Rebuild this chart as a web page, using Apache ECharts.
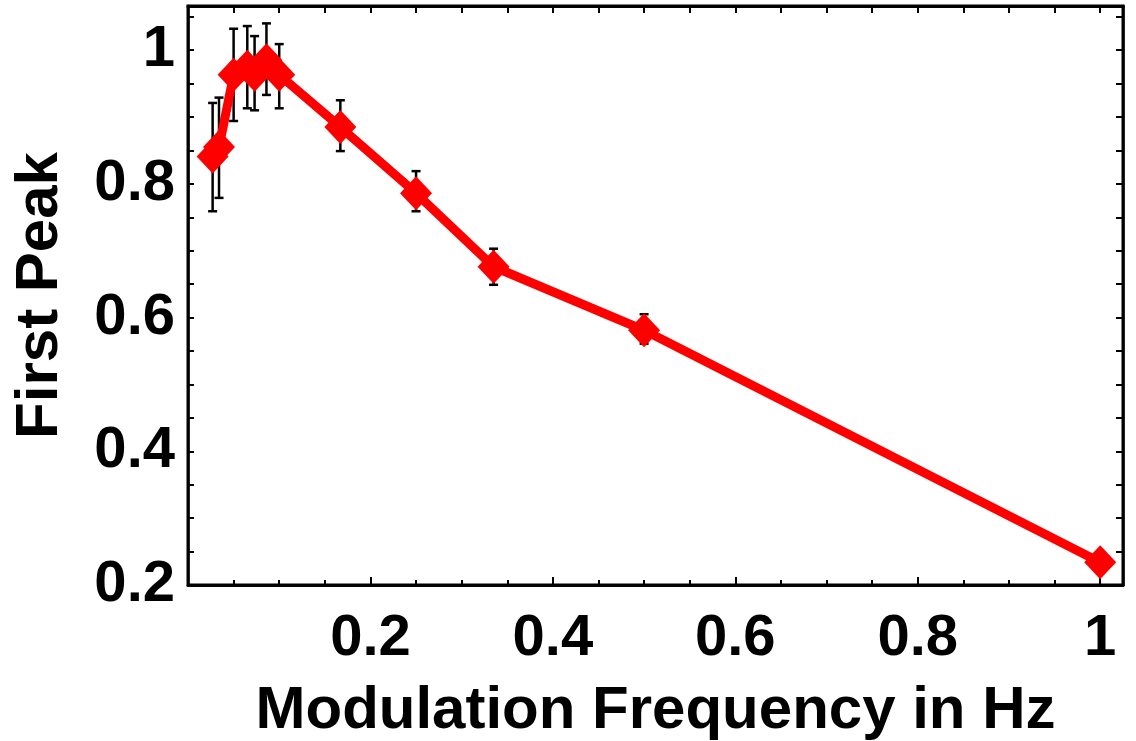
<!DOCTYPE html>
<html>
<head>
    <meta charset="UTF-8">
    <title>First Peak vs Modulation Frequency</title>
    <script src="https://cdnjs.cloudflare.com/ajax/libs/echarts/6.0.0/echarts.min.js"></script>
    <style>
        body { margin: 0; background: #fff; }
        #chart { width: 1136px; height: 741px; }
    </style>
</head>
<body>
    <div id="chart"></div>
    <script>
        // data
        const freq = [0.027, 0.034, 0.05, 0.065, 0.073, 0.086, 0.1, 0.167, 0.25, 0.335, 0.5, 1.0];
        const firstPeak = [0.841, 0.855, 0.963, 0.975, 0.963, 0.985, 0.963, 0.885, 0.786, 0.676, 0.581, 0.234];
        const errLow = [0.759, 0.779, 0.894, 0.913, 0.910, 0.933, 0.913, 0.849, 0.759, 0.649, 0.561, 0.234];
        const errHigh = [0.921, 0.929, 1.032, 1.036, 1.021, 1.040, 1.009, 0.925, 0.819, 0.703, 0.605, 0.234];

        const xTitle = 'Modulation Frequency in Hz';
        const yTitle = 'First Peak';

        const font = 'Liberation Sans, Arial, Helvetica, sans-serif';
        const chart = echarts.init(document.getElementById('chart'));

        // label only every 0.2
        function fmt(v) {
            const k = v / 0.2;
            if (Math.abs(k - Math.round(k)) > 1e-6 || Math.round(k) === 0) return '';
            return Math.abs(v - 1) < 1e-6 ? '1' : v.toFixed(1);
        }

        const axisLine = (w) => ({ show: true, onZero: false, lineStyle: { color: '#000', width: w || 2.5 } });
        const tick = (len, inside) => ({ show: true, inside: inside !== false, length: len, lineStyle: { color: '#000', width: 2 } });
        const labelStyle = { color: '#000', fontFamily: font, fontWeight: 'bold', fontSize: 58 };

        function xAx(extra) {
            return Object.assign({ type: 'value', min: 0, max: 1.025, splitLine: { show: false }, axisLine: axisLine() }, extra);
        }
        function yAx(extra) {
            return Object.assign({ type: 'value', min: 0.2, max: 1.066, interval: 0.05, splitLine: { show: false }, axisLine: axisLine() }, extra);
        }

        const option = {
            animation: false,
            grid: {
                left: 188, right: 13, top: 6, bottom: 156, outerBoundsMode: 'none',
                show: true, borderColor: '#000', borderWidth: 3, backgroundColor: 'transparent'
            },
            xAxis: [
                xAx({
                    position: 'bottom', interval: 0.2,
                    axisTick: tick(8),
                    axisLabel: Object.assign({ margin: 25, formatter: fmt }, labelStyle),
                    name: xTitle, nameLocation: 'middle', nameGap: 96,
                    nameTextStyle: { color: '#000', fontFamily: font, fontWeight: 'bold', fontSize: 60 }
                }),
                xAx({
                    position: 'top', interval: 0.05,
                    axisLine: axisLine(3),
                    axisTick: { show: false }, axisLabel: { show: false }
                }),
                xAx({
                    // top ticks: axis shifted 7px down, outward ticks reach back up to the frame
                    position: 'top', offset: -7, interval: 0.05,
                    axisLine: { show: false, onZero: false },
                    axisTick: tick(7, false), axisLabel: { show: false }
                }),
                xAx({
                    position: 'bottom', interval: 0.05,
                    axisTick: tick(5), axisLabel: { show: false }
                })
            ],
            yAxis: [
                yAx({
                    position: 'left',
                    axisTick: tick(6),
                    axisLabel: Object.assign({ margin: 13, formatter: fmt }, labelStyle),
                    name: yTitle, nameLocation: 'middle', nameGap: 118, nameRotate: 90,
                    nameTextStyle: { color: '#000', fontFamily: font, fontWeight: 'bold', fontSize: 60 }
                }),
                yAx({
                    position: 'right',
                    axisTick: tick(7), axisLabel: { show: false }
                })
            ],
            series: [
                {
                    type: 'custom',
                    xAxisIndex: 0, yAxisIndex: 0,
                    z: 1,
                    data: freq.map((f, i) => [f, errLow[i], errHigh[i]]),
                    renderItem: function (params, api) {
                        const lo = api.coord([api.value(0), api.value(1)]);
                        const hi = api.coord([api.value(0), api.value(2)]);
                        const w = 4.5;
                        const st = { stroke: '#000', lineWidth: 2.5 };
                        return {
                            type: 'group',
                            children: [
                                { type: 'line', shape: { x1: lo[0], y1: lo[1], x2: hi[0], y2: hi[1] }, style: st },
                                { type: 'line', shape: { x1: lo[0] - w, y1: lo[1], x2: lo[0] + w, y2: lo[1] }, style: st },
                                { type: 'line', shape: { x1: hi[0] - w, y1: hi[1], x2: hi[0] + w, y2: hi[1] }, style: st }
                            ]
                        };
                    }
                },
                {
                    type: 'line',
                    xAxisIndex: 0, yAxisIndex: 0,
                    z: 3,
                    data: freq.map((f, i) => [f, firstPeak[i]]),
                    symbol: 'diamond',
                    symbolSize: [32, 34],
                    showAllSymbol: true,
                    lineStyle: { color: '#ff0000', width: 9 },
                    itemStyle: { color: '#ff0000' }
                }
            ]
        };

        chart.setOption(option);
    </script>
</body>
</html>
